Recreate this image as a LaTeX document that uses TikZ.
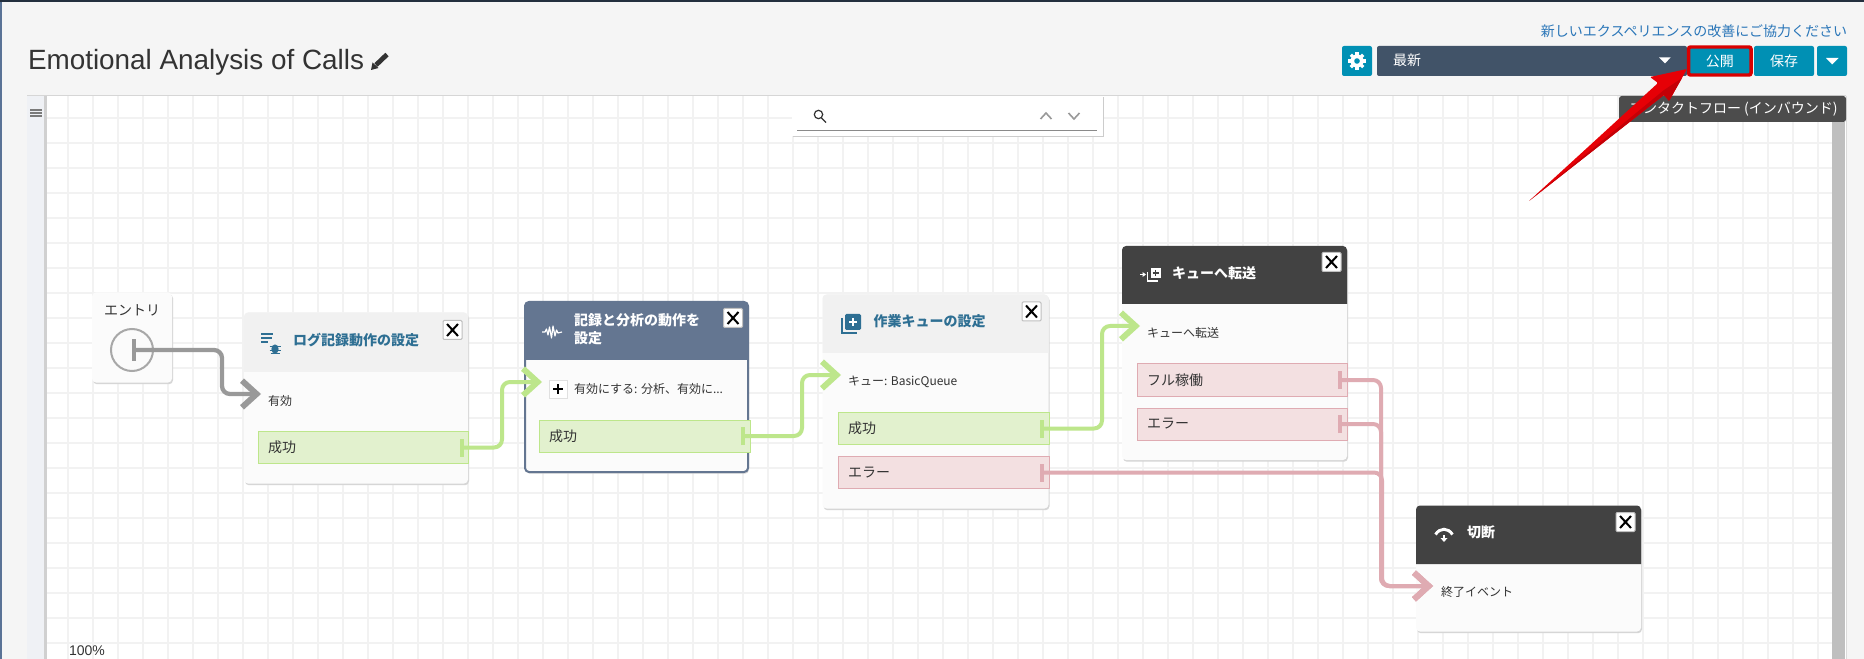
\documentclass[tikz,border=0pt]{standalone}
\usepackage{fontspec}
\setmainfont{Liberation Sans}
\newfontfamily\jp{Noto Sans CJK JP}
\usetikzlibrary{arrows.meta,shadows}
\definecolor{pagebg}{HTML}{F5F5F5}
\definecolor{gridc}{HTML}{F2F2F2}
\definecolor{topbar}{HTML}{232F3E}
\definecolor{edgeblue}{HTML}{5A7396}
\definecolor{sidec}{HTML}{EFF1F5}
\definecolor{sideb}{HTML}{D0D0D0}
\definecolor{teal}{HTML}{0090B4}
\definecolor{slatebtn}{HTML}{415368}
\definecolor{linkc}{HTML}{2A76B8}
\definecolor{bodyc}{HTML}{FBFBFB}
\definecolor{hdrlight}{HTML}{F1F1F1}
\definecolor{hdrdark}{HTML}{424242}
\definecolor{hdrslate}{HTML}{647691}
\definecolor{ttl}{HTML}{2E6F93}
\definecolor{txt}{HTML}{333333}
\definecolor{fgreen}{HTML}{BDE68B}
\definecolor{pgreen}{HTML}{E2F1CE}
\definecolor{fred}{HTML}{DFABB2}
\definecolor{pred}{HTML}{F3E0E1}
\definecolor{fgray}{HTML}{999999}
\definecolor{arrowred}{HTML}{E60006}
\definecolor{arrowdark}{HTML}{C40006}
\tikzset{
  x=0.75pt, y=-0.75pt,
  wh/.style 2 args={minimum width=#1*0.75pt, minimum height=#2*0.75pt},
  every node/.style={inner sep=0pt, outer sep=0pt, text=txt},
  flowbox/.style 2 args={wh={#1}{#2}, anchor=north west, fill=bodyc, rounded corners=3pt,
     general shadow={fill=black!16, shadow xshift=0.75pt, shadow yshift=-1.3pt}},
  t14/.style={font=\jp\fontsize{10.5}{12.5}\selectfont, anchor=west},
  t12/.style={font=\jp\fontsize{9}{11}\selectfont, anchor=west},
  title/.style={font=\jp\bfseries\fontsize{10.5}{13.5}\selectfont, anchor=west, text=ttl, align=left},
  whitetitle/.style={title, text=white},
  portbase/.style 2 args={anchor=north west, align=left, text width=(#1-20)*0.75pt,
     inner xsep=7.5pt, minimum height=#2*0.75pt, font=\jp\fontsize{10.5}{12.5}\selectfont, line width=0.75pt},
  portok/.style 2 args={portbase={#1}{#2}, draw=fgreen, fill=pgreen},
  porterr/.style 2 args={portbase={#1}{#2}, draw=fred, fill=pred},
  closebtn/.style={wh={19}{19}, draw=black!25, fill=white, rounded corners=0.8pt, line width=0.75pt,
     path picture={\draw[black,line width=1.5pt]
        ([shift={(-5.5,-6)}]path picture bounding box.center) -- ([shift={(5.5,6)}]path picture bounding box.center)
        ([shift={(-5.5,6)}]path picture bounding box.center) -- ([shift={(5.5,-6)}]path picture bounding box.center);}},
  plusbtn/.style={wh={18}{18}, draw=black!12, fill=white, line width=0.75pt,
     path picture={\draw[black,line width=1.4pt]
        ([shift={(-5,0)}]path picture bounding box.center) -- ([shift={(5,0)}]path picture bounding box.center)
        ([shift={(0,-5)}]path picture bounding box.center) -- ([shift={(0,5)}]path picture bounding box.center);}},
  flow/.style={draw=#1, line width=3pt, rounded corners=6pt, line join=round,
     {Bar[width=13.5pt,line width=3pt,sep=0pt]}-{Straight Barb[length=11pt,width=20pt,line width=4.4pt,sep=0pt]}},
  entryflow/.style={draw=#1, line width=3.2pt, rounded corners=6pt, line join=round,
     {Bar[width=16.5pt,line width=3pt,sep=0pt]}-{Straight Barb[length=11pt,width=20pt,line width=4.4pt,sep=0pt]}},
  btn/.style 2 args={wh={#1}{#2}, anchor=north west, fill=teal, rounded corners=1.5pt,
     font=\jp\fontsize{10.5}{12.5}\selectfont, text=white},
}
\newcommand\headerband[5]{\fill[#5] (#1,#4) [rounded corners=3pt] -- (#1,#3) -- (#2,#3) [sharp corners] -- (#2,#4) -- cycle;}
\begin{document}
\begin{tikzpicture}
\useasboundingbox (0,0) rectangle (1864,659);
\fill[pagebg] (0,0) rectangle (1864,659);
\fill[topbar] (0,0) rectangle (1864,2.5);
\fill[edgeblue] (0,2.5) rectangle (2,659);
% canvas
\fill[sidec] (27,96) rectangle (44,659);
\fill[sideb] (44,96) rectangle (47,659);
\fill[white] (47,96) rectangle (1846,659);
\foreach \gx in {0,...,70} {\draw[gridc,line width=1.5pt] ({67.5+25*\gx},96) -- ({67.5+25*\gx},659);}
\foreach \gy in {0,...,21} {\draw[gridc,line width=1.5pt] (47,{118+25*\gy}) -- (1832,{118+25*\gy});}
\draw[black!16,line width=0.9pt] (27,95.5) -- (1846,95.5);
\draw[black!14,line width=0.75pt] (1846.5,96) -- (1846.5,659);
\fill[black!25] (1832,122) rectangle (1845,659);
\draw[fgray!80!black,line width=1.1pt] (30,110) -- (42,110) (30,113) -- (42,113) (30,116) -- (42,116);
% heading
\node[font=\fontsize{20.9}{25}\selectfont, anchor=west, text=txt] (flowname) at (28,62.5) {Emotional Analysis of Calls};
\draw[txt,line width=3.6pt] (376,65) -- (387,54.5);
\fill[txt] (371,70) -- (372.5,62.5) -- (378.5,68) -- cycle;
\node[font=\jp\fontsize{10.5}{12.5}\selectfont, anchor=east, text=linkc] (feedback) at (1847,31) {新しいエクスペリエンスの改善にご協力ください};
% toolbar
\node[btn={30}{30}] (gearbtn) at (1342,46) {};
\foreach \ga in {0,45,...,315} {\draw[white,line width=2.4pt] (gearbtn.center) ++(\ga:5) -- ++(\ga:3.8);}
\fill[white] (gearbtn.center) circle[radius=6.5];
\fill[teal] (gearbtn.center) circle[radius=2.8];
\node[btn={310}{30}, fill=slatebtn] (version) at (1377,46) {};
\node[t14, text=white] (versiontext) at (1393,60) {最新};
\fill[white] (1659,57.5) -- (1670.5,57.5) -- (1665,63.5) -- cycle;
\node[btn={60}{30}] (savebtn) at (1754,46) {保存};
\node[btn={30}{30}] (morebtn) at (1817,46) {};
\fill[white] (1826,58) -- (1838.5,58) -- (1832.2,64.5) -- cycle;
\node[btn={62.5}{28}, draw=red!85!black, line width=2.6pt] (publish) at (1688.5,47) {公開};
% search panel
\fill[black!20,shift={(1,1.5)}] (792,96) rectangle (1103,136);
\fill[white] (792,96) rectangle (1103,136);
\draw[fgray!90!black,line width=0.75pt] (797,130.5) -- (1097,130.5);
\draw[txt,line width=0.9pt] (818.5,114.5) circle[radius=4.2] (821.5,118) -- (826,122.5);
\draw[fgray,line width=1.2pt] (1040.5,119) -- (1046,113) -- (1051.5,119);
\draw[fgray,line width=1.2pt] (1068.5,113) -- (1074,119) -- (1079.5,113);
% boxes
\node[flowbox={80}{90}] (entry) at (92,292.5) {};
\node[t14] (entrytext) at (104,310.5) {エントリ};
\draw[fgray!85,line width=1.5pt] (132,350) circle[radius=21];
\coordinate (entryout) at (132,350);

\node[flowbox={224}{171}] (log) at (244,312.5) {};
\headerband{244}{468}{312.5}{372}{hdrlight}
\node[title] (logtitle) at (293,340.5) {ログ記録動作の設定};
\draw[ttl,line width=1.5pt] (261,334) -- (273,334) (261,338) -- (272,338) (261,342.5) -- (268,342.5);
\fill[ttl] (275,349) ellipse[x radius=3.6,y radius=4.6];
\draw[ttl,line width=0.7pt] (269.5,346.5) -- (280.5,346.5) (269.5,350) -- (280.5,350) (270.5,353.5) -- (279.5,353.5);
\node[closebtn, anchor=north west] (logx) at (443,320.5) {};
\node[t12] (login) at (268,400.5) {有効};
\node[portok={210}{32}] (logok) at (258,431.5) {成功};
\coordinate (login tip) at (261,394);

\node[flowbox={223}{170}, draw=hdrslate, line width=1.5pt] (an) at (525,302) {};
\headerband{524.5}{748.5}{301.5}{360}{hdrslate}
\node[whitetitle] (antitle) at (574,329) {記録と分析の動作を\\設定};
\draw[white,line width=0.9pt,line join=round] (542,332) -- (545,332) -- (546.5,329) -- (548,335) -- (549.5,327) -- (551.5,338) -- (553,326) -- (555,336) -- (556.5,330) -- (558,333) -- (562,332);
\node[closebtn, anchor=north west] (anx) at (723.5,308.5) {};
\node[plusbtn, anchor=north west] (anplus) at (549,380) {};
\node[t12] (anattr) at (574,389) {有効にする: 分析、有効に...};
\node[portok={211}{32}] (anok) at (539,420) {成功};
\coordinate (an tip) at (542,382);

\node[flowbox={226}{214}] (wq) at (822.5,294.5) {};
\headerband{822.5}{1048.5}{294.5}{353}{hdrlight}
\node[title] (wqtitle) at (873.5,321.5) {作業キューの設定};
\fill[ttl,rounded corners=1pt] (845,314) rectangle (861,330);
\draw[white,line width=1.3pt] (849,322) -- (857,322) (853,318) -- (853,326);
\draw[ttl,line width=1.5pt] (842,318) -- (842,333.5) -- (857,333.5);
\node[closebtn, anchor=north west] (wqx) at (1022,302) {};
\node[t12] (wqattr) at (848,381.5) {キュー: BasicQueue};
\node[portok={211}{32}] (wqok) at (838,412.5) {成功};
\node[porterr={211}{32}] (wqerr) at (838,456.5) {\raisebox{-1pt}{エラー}};
\coordinate (wq tip) at (841,375);

\node[flowbox={225}{214}] (tq) at (1122,246) {};
\headerband{1122}{1347}{246}{304}{hdrdark}
\node[whitetitle] (tqtitle) at (1172,273) {キューへ転送};
\draw[white,line width=1pt] (1140,274.5) -- (1143,274.5);
\fill[white] (1142.5,272) -- (1146,274.5) -- (1142.5,277) -- cycle;
\fill[white] (1151,268) rectangle (1160.5,278);
\draw[hdrdark,line width=1pt] (1152.5,273) -- (1159,273) (1155.8,270) -- (1155.8,276);
\draw[white,line width=1pt] (1147.5,272) -- (1147.5,281) -- (1158,281);
\node[closebtn, anchor=north west] (tqx) at (1322,252.5) {};
\node[t12] (tqattr) at (1147,333) {キューへ転送};
\node[porterr={210}{32}] (tqfull) at (1137,364) {フル稼働};
\node[porterr={210}{32}] (tqerr) at (1137,408) {\raisebox{-1pt}{エラー}};
\coordinate (tq tip) at (1140,326);

\node[flowbox={225}{126}] (dc) at (1416,505.5) {};
\headerband{1416}{1641}{505.5}{564}{hdrdark}
\node[whitetitle] (dctitle) at (1467,532.5) {切断};
\draw[white,line width=2.2pt] (1435.5,534.5) .. controls (1440,527.5) and (1448,527.5) .. (1452.5,534.5);
\draw[white,line width=1.2pt] (1444,535) -- (1444,539);
\fill[white] (1440.5,538) -- (1447.5,538) -- (1444,542) -- cycle;
\node[closebtn, anchor=north west] (dcx) at (1616,512.5) {};
\node[t12] (dcattr) at (1441,592) {終了イベント};
\coordinate (dc tip) at (1433,586);

% connectors
\coordinate (logok out) at ([shift={(-8,0)}]logok.east);
\coordinate (anok out) at ([shift={(-9,0)}]anok.east);
\coordinate (wqok out) at ([shift={(-9,0)}]wqok.east);
\coordinate (wqerr out) at ([shift={(-9,0)}]wqerr.east);
\coordinate (tqfull out) at ([shift={(-9,0)}]tqfull.east);
\coordinate (tqerr out) at ([shift={(-9,0)}]tqerr.east);
\path[entryflow=fgray] (entryout) -- ++(90,0) |- (login tip);
\path[flow=fgreen] (logok out) -- ++(42,0) |- (an tip);
\path[flow=fgreen] (anok out) -- ++(61,0) |- (wq tip);
\path[flow=fgreen] (wqok out) -- ++(62,0) |- (tq tip);
\path[flow=fred] (tqfull out) -- ++(43,0) |- (dc tip);
\path[flow=fred] (tqerr out) -- ++(43,0) |- (dc tip);
\path[flow=fred] (wqerr out) -- ++(342,0) |- (dc tip);
% tooltip
\node[wh={227}{26}, anchor=north west, fill=black!70, rounded corners=2pt] (tooltip) at (1619,96) {};
\node[font=\jp\fontsize{10.5}{12}\selectfont, text=white, anchor=west] (tooltiptext) at (1629,109) {コンタクトフロー (インバウンド)};
\node[font=\fontsize{10.5}{12}\selectfont, anchor=west, text=txt] (zoomlevel) at (69,651) {100\%};
% callout arrow
\fill[arrowred,rounded corners=0.8pt] (1529,201) -- (1664,95) -- (1669,101) -- (1687,69) -- (1650,77) -- (1658,83) -- cycle;
\fill[arrowdark] (1529,201) -- (1664,95) -- (1669,101) -- (1682,78) -- (1664,90) -- cycle;
\end{tikzpicture}
\end{document}
